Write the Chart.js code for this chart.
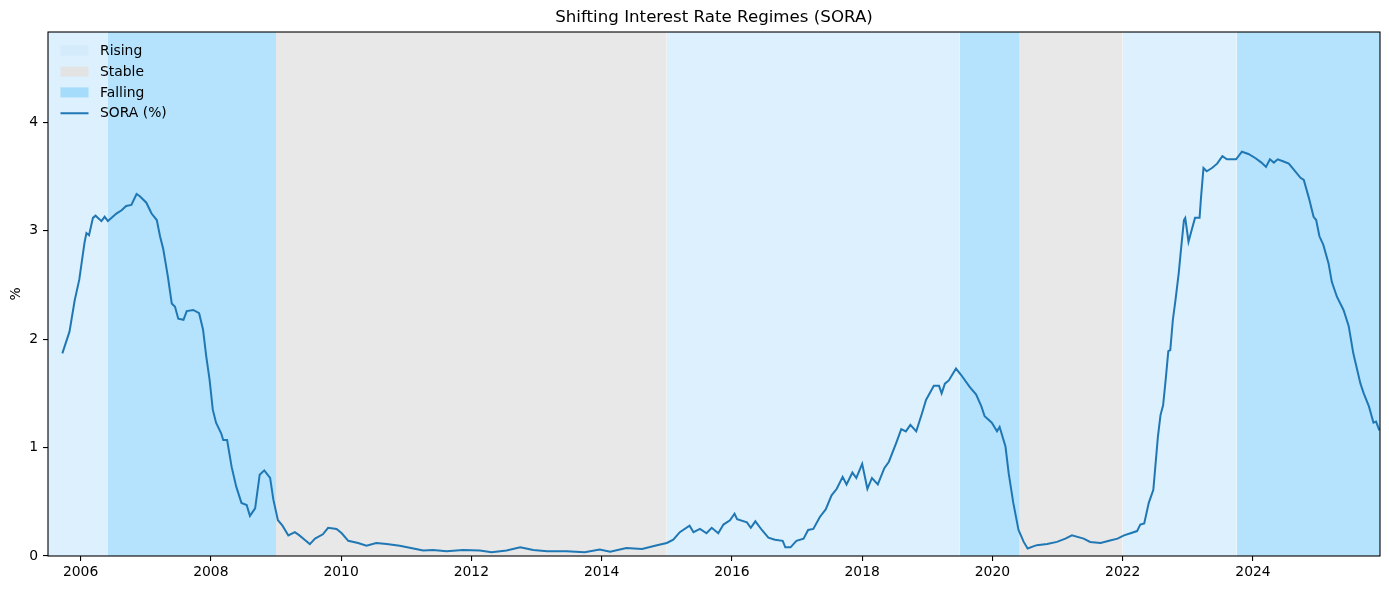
<!DOCTYPE html>
<html>
<head>
<meta charset="utf-8">
<script src="https://cdn.jsdelivr.net/npm/chart.js@4/dist/chart.umd.min.js"></script>
<style>
html,body{margin:0;padding:0;background:#fff;}
canvas{display:block;}
</style>
</head>
<body>
<canvas id="c" width="1389" height="590"></canvas>
<script>
// ---------- data ----------
const soraYears = [
2005.72,2005.83,2005.91,2005.98,2006.06,2006.09,2006.13,2006.19,2006.23,2006.32,2006.37,2006.42,2006.55,2006.63,2006.70,2006.78,2006.86,2006.91,
2007.01,2007.09,2007.17,2007.22,2007.27,2007.34,2007.40,2007.45,2007.50,2007.58,2007.63,2007.73,2007.82,2007.88,2007.93,2007.98,
2008.03,2008.08,2008.16,2008.19,2008.25,2008.32,2008.39,2008.47,2008.55,2008.60,2008.68,2008.75,2008.82,2008.91,2008.96,
2009.03,2009.10,2009.19,2009.29,2009.36,2009.44,2009.52,2009.60,2009.72,2009.80,2009.93,
2010.01,2010.11,2010.26,2010.39,2010.54,2010.70,2010.90,2011.11,2011.26,2011.41,2011.62,2011.87,
2012.13,2012.31,2012.54,2012.75,2012.95,2013.16,2013.46,2013.74,2013.97,2014.13,2014.38,2014.62,2014.85,
2015.00,2015.10,2015.20,2015.35,2015.41,2015.51,2015.61,2015.69,2015.79,2015.87,2015.97,
2016.04,2016.08,2016.23,2016.29,2016.36,2016.46,2016.56,2016.66,2016.78,2016.82,2016.90,2016.99,
2017.10,2017.17,2017.25,2017.35,2017.44,2017.53,2017.61,2017.70,2017.76,2017.85,2017.91,
2018.00,2018.08,2018.15,2018.24,2018.34,2018.41,2018.52,2018.60,2018.67,2018.74,2018.83,2018.92,2018.98,
2019.10,2019.18,2019.22,2019.27,2019.33,2019.44,2019.52,2019.65,2019.75,2019.83,2019.88,2019.99,
2020.07,2020.11,2020.20,2020.25,2020.32,2020.40,2020.48,2020.54,2020.68,2020.84,2020.99,
2021.12,2021.22,2021.40,2021.50,2021.66,2021.79,2021.92,
2022.02,2022.12,2022.22,2022.27,2022.33,2022.40,2022.47,2022.50,2022.54,2022.58,2022.62,2022.66,2022.70,2022.73,2022.77,2022.81,2022.86,2022.89,2022.94,2022.96,
2023.01,2023.06,2023.11,2023.18,2023.20,2023.24,2023.29,2023.37,2023.45,2023.53,2023.60,2023.68,2023.74,2023.83,2023.93,
2024.04,2024.13,2024.20,2024.26,2024.32,2024.38,2024.47,2024.55,2024.62,2024.73,2024.78,2024.86,2024.93,2024.97,
2025.02,2025.08,2025.16,2025.21,2025.29,2025.39,2025.47,2025.54,2025.65,2025.70,2025.78,2025.85,2025.89,2025.94
];
const soraValues = [
1.87,2.07,2.36,2.55,2.89,2.98,2.96,3.12,3.14,3.09,3.13,3.09,3.16,3.19,3.23,3.24,3.34,3.32,
3.26,3.16,3.10,2.95,2.83,2.58,2.33,2.30,2.19,2.18,2.26,2.27,2.24,2.09,1.84,1.63,
1.35,1.23,1.13,1.07,1.07,0.82,0.64,0.49,0.47,0.37,0.44,0.75,0.79,0.72,0.52,
0.33,0.28,0.19,0.22,0.19,0.15,0.11,0.16,0.20,0.26,0.25,
0.21,0.14,0.12,0.095,0.12,0.11,0.095,0.07,0.05,0.055,0.043,0.055,
0.05,0.034,0.05,0.08,0.055,0.043,0.043,0.034,0.06,0.04,0.074,0.065,0.10,
0.12,0.15,0.22,0.28,0.22,0.25,0.21,0.26,0.21,0.29,0.33,
0.39,0.34,0.31,0.26,0.32,0.24,0.17,0.15,0.14,0.08,0.08,0.14,
0.16,0.24,0.25,0.36,0.43,0.56,0.62,0.73,0.66,0.77,0.72,
0.85,0.62,0.72,0.66,0.81,0.87,1.04,1.17,1.15,1.21,1.15,1.32,1.44,
1.57,1.57,1.50,1.59,1.62,1.73,1.67,1.56,1.49,1.38,1.29,1.23,
1.15,1.19,1.01,0.76,0.49,0.24,0.13,0.07,0.10,0.11,0.13,
0.16,0.19,0.16,0.13,0.12,0.14,0.16,
0.19,0.21,0.23,0.29,0.30,0.49,0.61,0.82,1.10,1.30,1.39,1.63,1.89,1.90,2.18,2.36,2.61,2.80,3.10,3.12,
2.90,3.01,3.12,3.12,3.29,3.58,3.55,3.58,3.62,3.69,3.66,3.66,3.66,3.73,3.71,
3.67,3.63,3.59,3.66,3.63,3.66,3.64,3.62,3.57,3.49,3.47,3.30,3.13,3.10,
2.95,2.87,2.70,2.53,2.39,2.27,2.12,1.87,1.59,1.50,1.38,1.23,1.24,1.16
];
const regimeStart = [2005.5, 2006.42, 2009.0, 2015.0, 2019.5, 2020.42, 2022.0, 2023.75];
const regimeEnd   = [2006.42, 2009.0, 2015.0, 2019.5, 2020.42, 2022.0, 2023.75, 2025.95];
const regimeType  = ['Rising','Falling','Stable','Rising','Falling','Stable','Rising','Falling'];
const legendLabels = ['Rising','Stable','Falling','SORA (%)'];
const xTicks = [2006,2008,2010,2012,2014,2016,2018,2020,2022,2024];
const yTicks = [0,1,2,3,4];
const xMin = 2005.5, xMax = 2025.95, yMin = 0, yMax = 4.835;

// ---------- styles ----------
const regimeColor = {Rising:'#dcf0fd', Stable:'#e8e8e8', Falling:'#b5e2fc'};
const legendPatchColor = {Rising:'#d3ebfb', Stable:'#e3e3e3', Falling:'#a5dbfb'};
const lineColor = '#1f77b4';
const FONT = "'DejaVu Sans', 'Liberation Sans', sans-serif";

Chart.defaults.font.family = FONT;
Chart.defaults.color = '#000';

const regionDatasets = regimeStart.map((s, i) => ({
  label: regimeType[i],
  data: [{x: s, y: yMax}, {x: regimeEnd[i], y: yMax}],
  backgroundColor: regimeColor[regimeType[i]],
  borderColor: 'rgba(0,0,0,0)',
  borderWidth: 0,
  pointRadius: 0,
  fill: 'origin',
  order: 10,
  tension: 0
}));

const soraDataset = {
  label: 'SORA (%)',
  data: soraYears.map((x, i) => ({x, y: soraValues[i]})),
  borderColor: lineColor,
  borderWidth: 2,
  pointRadius: 0,
  fill: false,
  tension: 0,
  order: 0
};

const framePlugin = {
  id: 'frameAndLegend',
  afterDatasetsDraw(chart) {
    const {ctx, chartArea: a} = chart;
    ctx.save();
    // legend
    const x0 = a.left + 12.5, rowTop = a.top + 18.7, rowH = 20.85;
    ctx.font = '13.9px ' + FONT;
    ctx.textBaseline = 'middle';
    ctx.textAlign = 'left';
    legendLabels.forEach((lab, i) => {
      const cy = rowTop + i * rowH;
      if (legendPatchColor[lab]) {
        ctx.fillStyle = legendPatchColor[lab];
        ctx.fillRect(x0, cy - 5, 28, 10);
      } else {
        ctx.strokeStyle = lineColor;
        ctx.lineWidth = 2;
        ctx.beginPath();
        ctx.moveTo(x0, cy);
        ctx.lineTo(x0 + 28, cy);
        ctx.stroke();
      }
      ctx.fillStyle = '#000';
      ctx.fillText(lab, x0 + 39.5, cy + 0.5);
    });
    // spines
    ctx.strokeStyle = '#000';
    ctx.lineWidth = 1.1;
    ctx.strokeRect(a.left, a.top, a.right - a.left, a.bottom - a.top);
    ctx.restore();
  }
};

new Chart(document.getElementById('c'), {
  type: 'line',
  data: { datasets: [...regionDatasets, soraDataset] },
  options: {
    responsive: false,
    animation: false,
    events: [],
    layout: { padding: { left: 0, right: 9, top: 0, bottom: 0 } },
    plugins: {
      legend: { display: false },
      tooltip: { enabled: false },
      title: {
        display: true,
        text: 'Shifting Interest Rate Regimes (SORA)',
        fullSize: false,
        color: '#000',
        font: { size: 16.67, weight: 'normal', family: FONT },
        padding: { top: 8, bottom: 4 }
      }
    },
    scales: {
      x: {
        type: 'linear',
        min: xMin, max: xMax,
        afterBuildTicks: (s) => { s.ticks = xTicks.map(v => ({value: v})); },
        afterFit: (s) => { s.height = 34; },
        ticks: { autoSkip: false, maxRotation: 0, padding: 3, font: { size: 13.9 }, color: '#000',
                 callback: (v) => String(v) },
        grid: { display: true, drawOnChartArea: false, drawTicks: true, tickLength: 5, color: '#000', lineWidth: 1.1 },
        border: { display: false }
      },
      y: {
        type: 'linear',
        min: yMin, max: yMax,
        afterBuildTicks: (s) => { s.ticks = yTicks.map(v => ({value: v})); },
        afterFit: (s) => { s.width = 48; },
        ticks: { padding: 5, font: { size: 13.9 }, color: '#000', callback: (v) => String(v) },
        grid: { display: true, drawOnChartArea: false, drawTicks: true, tickLength: 5, color: '#000', lineWidth: 1.1 },
        border: { display: false },
        title: { display: true, text: '%', font: { size: 13.9 }, color: '#000', padding: { top: 8, bottom: 0 } }
      }
    }
  },
  plugins: [framePlugin]
});
</script>
</body>
</html>
